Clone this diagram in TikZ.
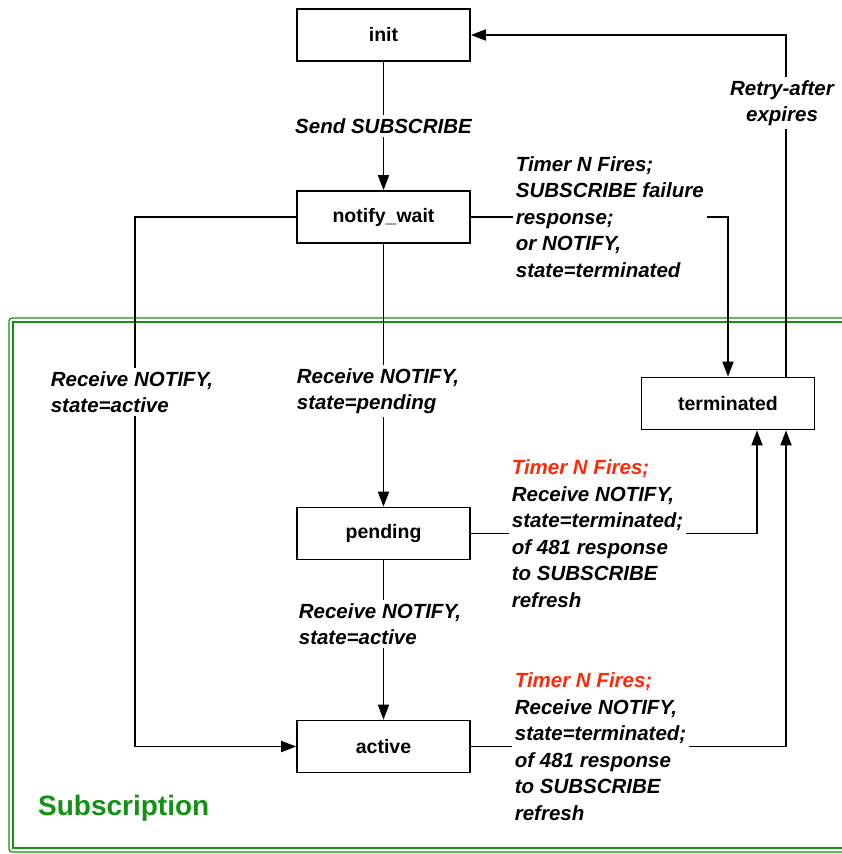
\documentclass[tikz,border=0pt]{standalone}
\usepackage{fontspec}
\setmainfont{Liberation Sans}
\usetikzlibrary{arrows.meta}
\definecolor{subgreen}{RGB}{20,145,20}
\definecolor{timerred}{RGB}{255,40,10}

\begin{document}
\begin{tikzpicture}[x=1pt,y=-1pt,line width=1.7pt,
  state/.style={draw, minimum width=173pt, minimum height=52pt, font=\bfseries\fontsize{19.5}{22}\selectfont},
  cond/.style={fill=white, align=left, inner sep=3pt, font=\bfseries\itshape\fontsize{20.5}{26.5}\selectfont},
  go/.style={-{Triangle[length=15pt,width=11pt]}}]
\useasboundingbox (0,0) rectangle (841,854);

\draw[subgreen, line width=1.3pt, rounded corners=3pt] (9,318) rectangle (870,852);
\draw[subgreen, line width=1.3pt] (13,322) rectangle (870,848);
\node[subgreen, anchor=west, font=\bfseries\fontsize{28}{30}\selectfont] (sub) at (34,808) {Subscription};

\node[state] (init) at (383.5,35) {init};
\node[state] (wait) at (383.5,217) {notify\_wait};
\node[state] (term) at (728,403.5) {terminated};
\node[state] (pend) at (383.5,533.5) {pending};
\node[state] (act) at (383.5,746.5) {active};

\coordinate (lbend) at (135,217);

\draw[go] (init) -- node[cond, align=center] (lsend) {Send SUBSCRIBE} (wait);
\draw[go] (wait.west) -- (lbend) |- (act.west);
\draw[go] (wait) -- (pend);
\draw[go] (pend) -- (act);
\draw[go] (wait.east) -| (term.north);
\draw[go] (pend.east) -| ([xshift=29pt]term.south);
\draw[go] (act.east) -| ([xshift=58pt]term.south);
\draw[go] ([xshift=58pt]term.north) |- (init.east);

\node[cond, anchor=west] (lact) at (47,392) {Receive NOTIFY,\\state=active};
\node[cond, anchor=west] (lpend) at (293,391) {Receive NOTIFY,\\state=pending};
\node[cond, anchor=west] (lact2) at (295,624) {Receive NOTIFY,\\state=active};
\node[cond, anchor=west] (lfail) at (512,217) {Timer N Fires;\\SUBSCRIBE failure\\response;\\or NOTIFY,\\state=terminated};
\node[cond, anchor=west] (lterm1) at (508,533.5) {\textcolor{timerred}{Timer N Fires;}\\Receive NOTIFY,\\state=terminated;\\of 481 response\\to SUBSCRIBE\\refresh};
\node[cond, anchor=west] (lterm2) at (511,746.5) {\textcolor{timerred}{Timer N Fires;}\\Receive NOTIFY,\\state=terminated;\\of 481 response\\to SUBSCRIBE\\refresh};
\node[cond, align=center] (lretry) at (782,103) {Retry-after\\expires};
\end{tikzpicture}
\end{document}
